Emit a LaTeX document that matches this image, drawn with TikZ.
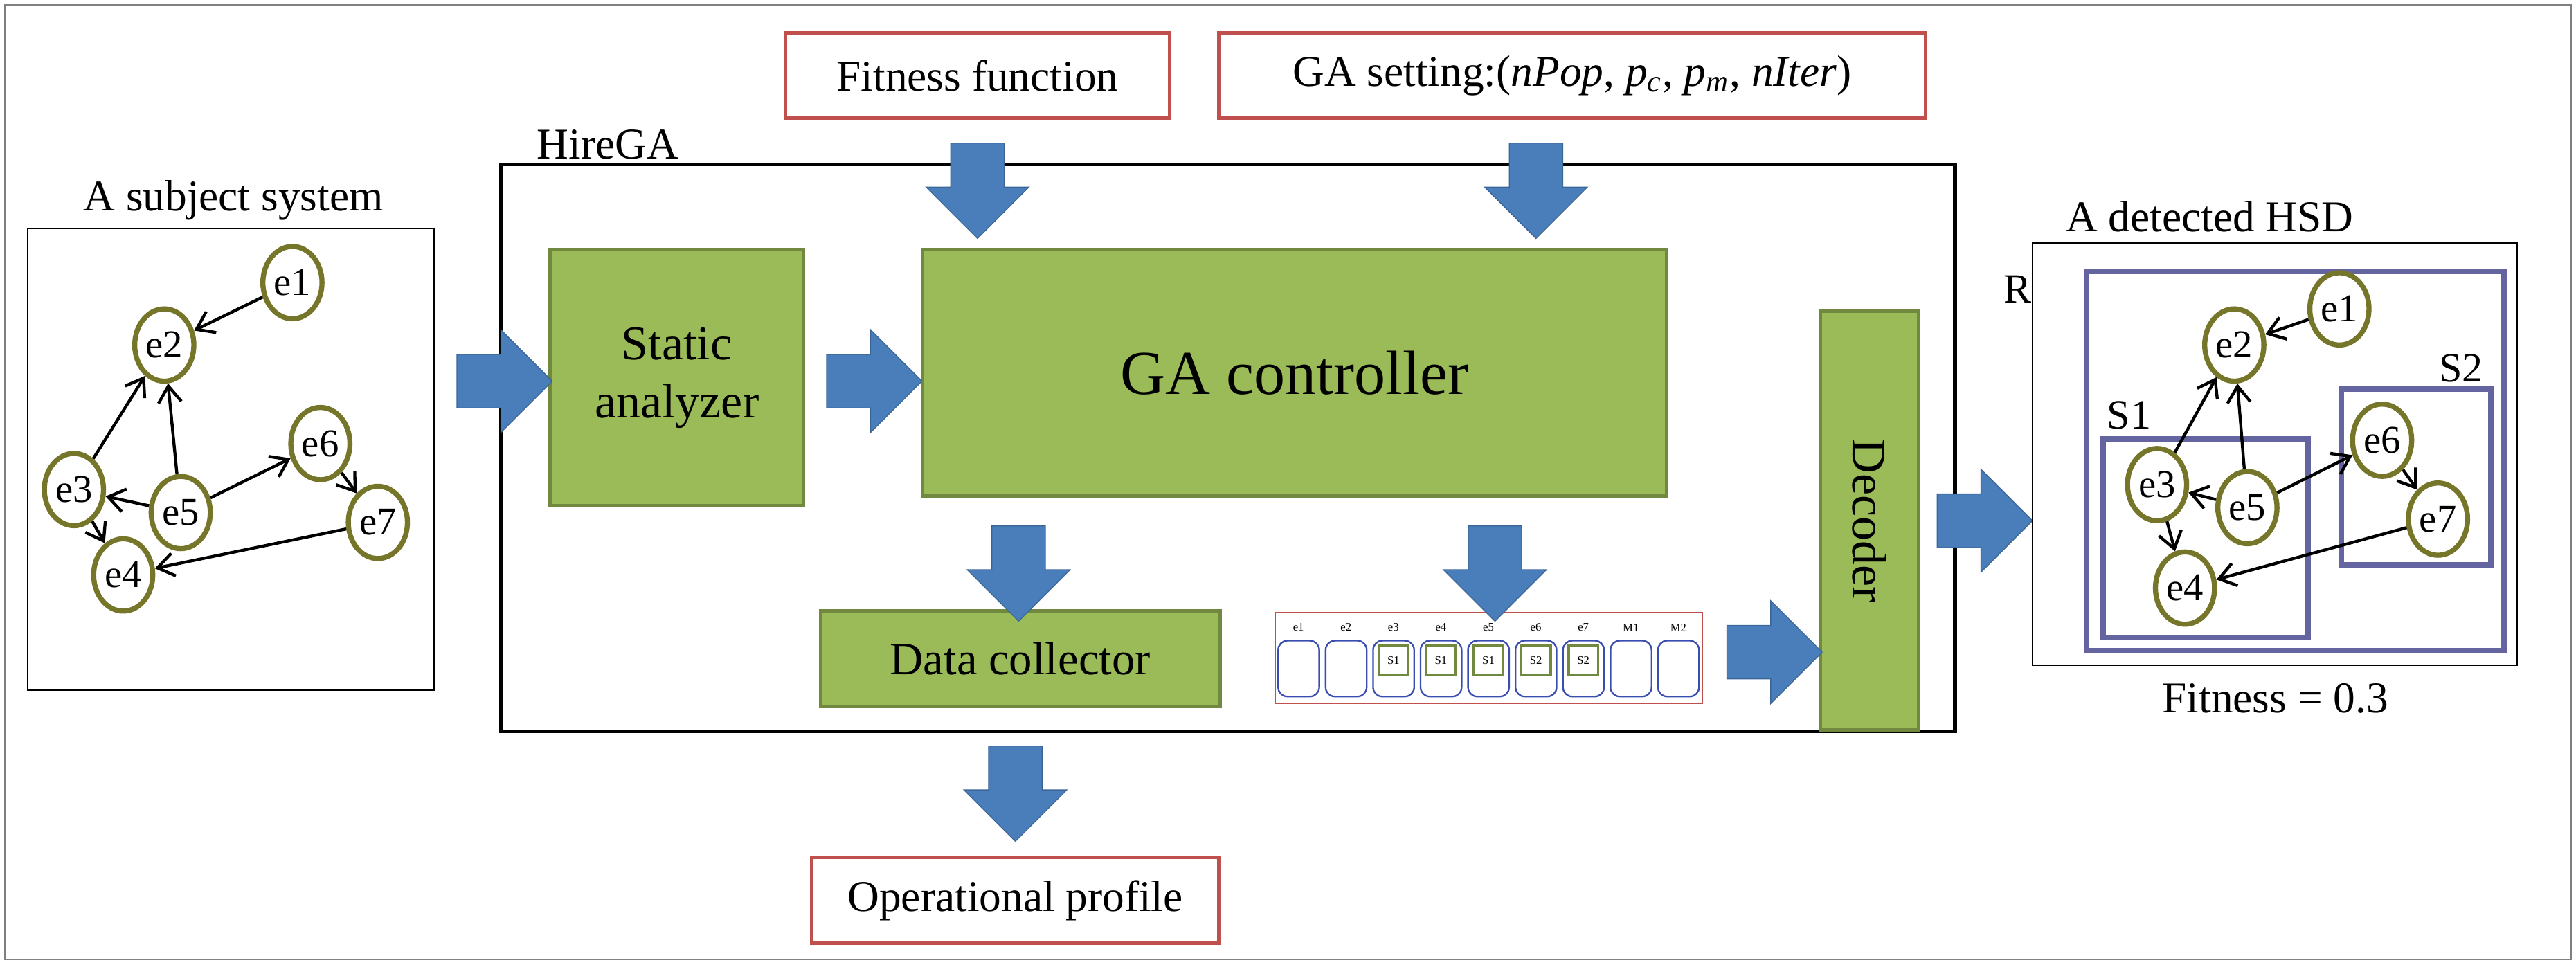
\documentclass[tikz,border=0pt]{standalone}
\usepackage{fontspec}
\setmainfont{Liberation Serif}
\usetikzlibrary{shapes.arrows, shapes.geometric, arrows.meta}
\definecolor{grnbox}{HTML}{9BBB59}
\definecolor{grnline}{HTML}{71893F}
\definecolor{olvnode}{HTML}{76762A}
\definecolor{bluarr}{HTML}{4A7EBB}
\definecolor{redbox}{HTML}{C0504D}
\definecolor{pplbox}{HTML}{6464A0}
\definecolor{blucell}{HTML}{3A4DB0}
\newlength\px
\setlength\px{0.025cm}
\tikzset{
  elem/.style={ellipse, draw=olvnode, line width=2.2pt, minimum width=36\px, minimum height=44\px, inner sep=0pt, font=\fontsize{17}{17}\selectfont},
  dep/.style={-{Straight Barb[length=2.5mm, width=3.5mm]}, line width=1.3pt},
  module/.style={draw=grnline, fill=grnbox, line width=1.5pt, inner sep=0pt},
  input/.style={draw=redbox, line width=1.6pt, minimum height=52\px, font=\fontsize{19}{19}\selectfont},
  blockarrow/.style={single arrow, fill=bluarr, draw=bluarr!80!black, minimum height=58\px, inner xsep=0pt, inner ysep=16\px, single arrow head extend=15\px, single arrow head indent=0pt},
}
\begin{document}
\begin{tikzpicture}[x=0.025cm, y=-0.025cm]
\useasboundingbox (0,0) rectangle (1568,587);
\draw[gray, thin] (3,3) rectangle (1565,584);

% inputs
\node[input, minimum width=234\px] (fit) at (595,46) {Fitness function};
\node[input, minimum width=430\px] (set) at (957,46) {GA setting:(\textit{nPop}, \textit{p}\textsubscript{\textit{c}}, \textit{p}\textsubscript{\textit{m}}, \textit{nIter})};
\node[input, minimum width=248\px] (prof) at (618,548) {Operational profile};

% HireGA frame
\draw[line width=1.5pt] (305,100) rectangle (1190,445);
\node[anchor=south west, font=\fontsize{19}{19}\selectfont] (hire) at (322,102) {HireGA};

% modules
\node[module, minimum width=154\px, minimum height=156\px, align=center, font=\fontsize{21}{25}\selectfont] (static) at (412,230) {Static\\analyzer};
\node[module, minimum width=453\px, minimum height=150\px, font=\fontsize{27}{27}\selectfont] (ctrl) at (788,227) {GA controller};
\node[module, minimum width=243\px, minimum height=58\px, font=\fontsize{20}{20}\selectfont] (coll) at (621,401) {Data collector};
\node[module, minimum width=60\px, minimum height=255\px, font=\fontsize{21}{21}\selectfont] (dec) at (1138,317) {\rotatebox{-90}{Decoder}};

% chromosome
\draw[redbox, line width=0.6pt] (776,373) rectangle (1036,428);
\foreach \lbl [count=\i] in {e1,e2,e3,e4,e5,e6,e7,M1,M2} {
  \node[font=\fontsize{5}{5}\selectfont] (lab\i) at ({776+14.4+(\i-1)*28.9},382) {\lbl};
  \draw[blucell, line width=0.7pt, rounded corners=4] ({776+2+(\i-1)*28.9},390) rectangle ({776+27+(\i-1)*28.9},424);
}
\foreach \s [count=\i from 3] in {S1,S1,S1,S2,S2} {
  \node[draw=grnline, line width=1pt, minimum width=18\px, minimum height=18\px, inner sep=0pt, font=\fontsize{5}{5}\selectfont] (gene\i) at ({776+14.4+(\i-1)*28.9},402) {\s};
}

% block arrows
\node[blockarrow, rotate=-90] (a1) at (595,108) {};
\node[blockarrow, rotate=-90] (a2) at (935,108) {};
\node[blockarrow] (a3) at (299,232) {};
\node[blockarrow] (a4) at (524,232) {};
\node[blockarrow, rotate=-90] (a5) at (620,341) {};
\node[blockarrow, rotate=-90] (a6) at (910,341) {};
\node[blockarrow] (a7) at (1072,397) {};
\node[blockarrow] (a8) at (1200,317) {};
\node[blockarrow, rotate=-90] (a9) at (618,475) {};

% subject system
\node[font=\fontsize{19}{19}\selectfont] (subj) at (142,122) {A subject system};
\draw[line width=0.6pt] (17,139) rectangle (264,420);
\node[elem] (le1) at (178,172) {e1};
\node[elem] (le2) at (100,210) {e2};
\node[elem] (le3) at (45,298) {e3};
\node[elem] (le4) at (75,350) {e4};
\node[elem] (le5) at (110,312) {e5};
\node[elem] (le6) at (195,270) {e6};
\node[elem] (le7) at (230,318) {e7};
\draw[dep] (le1) -- (le2);
\draw[dep] (le3) -- (le2);
\draw[dep] (le5) -- (le2);
\draw[dep] (le5) -- (le3);
\draw[dep] (le3) -- (le4);
\draw[dep] (le5) -- (le6);
\draw[dep] (le6) -- (le7);
\draw[dep] (le7) -- (le4);

% detected HSD
\node[font=\fontsize{19}{19}\selectfont] (hsd) at (1345,132) {A detected HSD};
\draw[line width=0.6pt] (1237,148) rectangle (1532,405);
\node[font=\fontsize{18}{18}\selectfont] (rlab) at (1228,176) {R};
\draw[pplbox, line width=2.4pt] (1270,165) rectangle (1524,396);
\draw[pplbox, line width=2.4pt] (1280,267) rectangle (1405,388);
\draw[pplbox, line width=2.4pt] (1425,237) rectangle (1516,344);
\node[font=\fontsize{18}{18}\selectfont] (s1lab) at (1296,253) {S1};
\node[font=\fontsize{18}{18}\selectfont] (s2lab) at (1498,224) {S2};
\node[elem] (re1) at (1424,188) {e1};
\node[elem] (re2) at (1360,210) {e2};
\node[elem] (re3) at (1313,295) {e3};
\node[elem] (re4) at (1330,358) {e4};
\node[elem] (re5) at (1368,309) {e5};
\node[elem] (re6) at (1450,268) {e6};
\node[elem] (re7) at (1484,316) {e7};
\draw[dep] (re1) -- (re2);
\draw[dep] (re3) -- (re2);
\draw[dep] (re5) -- (re2);
\draw[dep] (re5) -- (re3);
\draw[dep] (re3) -- (re4);
\draw[dep] (re5) -- (re6);
\draw[dep] (re6) -- (re7);
\draw[dep] (re7) -- (re4);
\node[font=\fontsize{19}{19}\selectfont] (fitval) at (1385,425) {Fitness = 0.3};
\end{tikzpicture}
\end{document}
